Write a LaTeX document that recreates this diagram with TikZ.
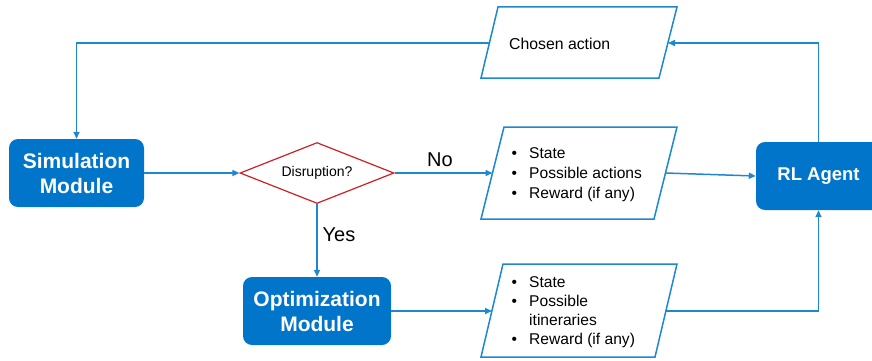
\documentclass[tikz,border=0pt]{standalone}
\usepackage{fontspec}
\setmainfont{Liberation Sans}
\usetikzlibrary{shapes.geometric,arrows.meta}

\definecolor{boxblue}{RGB}{0,117,201}
\definecolor{lineblue}{RGB}{30,135,208}
\definecolor{decred}{RGB}{204,32,38}

% bullet with a fixed hanging indent
\newcommand{\bul}{\makebox[17.5pt][l]{\textbullet}}
\newcommand{\nobul}{\hspace*{17.5pt}}

\begin{document}
\begin{tikzpicture}[x=1pt,y=-1pt,
  module/.style={fill=boxblue, rounded corners=9pt, text=white, align=center,
    inner sep=0pt, font=\bfseries\fontsize{21}{25}\selectfont},
  datashape/.style={draw=lineblue, line width=1.5pt, line join=miter},
  flow/.style={draw=lineblue, line width=1.5pt, -{Triangle[length=7pt,width=6pt]}},
  datatext/.style={inner sep=0pt, anchor=west, align=left, font=\fontsize{15.6}{20}\selectfont},
  branch/.style={inner sep=0pt, font=\fontsize{20}{24}\selectfont},
]
\useasboundingbox (0,0) rectangle (872,361);

% process boxes
\node[module, minimum width=135pt, minimum height=68pt] (sim) at (76.5,173) {Simulation\\Module};
\node[module, minimum width=148pt, minimum height=68pt] (opt) at (317,311) {Optimization\\Module};
\node[module, minimum width=125pt, minimum height=68pt, font=\bfseries\fontsize{18.5}{22}\selectfont] (rl) at (818.5,176) {RL Agent};

% decision
\node[diamond, draw=decred, line width=1.2pt, aspect=2.52, minimum width=154pt, minimum height=61pt,
  inner sep=0pt, font=\fontsize{14}{16}\selectfont] (dis) at (317,173) {Disruption?};

% data parallelograms
\draw[datashape] (481,78) -- (498,7) -- (677,7) -- (659,78) -- cycle;
\coordinate (caW) at (489.5,43);
\coordinate (caE) at (668,43);
\node[inner sep=0pt, anchor=base west, font=\fontsize{15.8}{18}\selectfont] (catext) at (509,49) {Chosen action};

\draw[datashape] (481,219) -- (504,127) -- (677,127) -- (654,219) -- cycle;
\coordinate (sAW) at (492.5,173);
\coordinate (sAE) at (665.5,173);
\node[datatext] (satext) at (511.5,175) {\bul State\\\bul Possible actions\\\bul Reward (if any)};

\draw[datashape] (481,357) -- (503,264) -- (677,264) -- (655,357) -- cycle;
\coordinate (sBW) at (492,311);
\coordinate (sBE) at (666,311);
\node[datatext, font=\fontsize{15.6}{19}\selectfont] (sbtext) at (511.5,312)
  {\bul State\\\bul Possible\\\nobul itineraries\\\bul Reward (if any)};

% connectors
\draw[flow] (sim.east) -- (dis.west);
\draw[flow] (dis.east) -- (sAW);
\draw[flow] (dis.south) -- (opt.north);
\draw[flow] (opt.east) -- (sBW);
\draw[flow] (sAE) -- (rl.west);
\draw[flow] (sBE) -| (rl.south);
\draw[flow] (rl.north) |- (caE);
\draw[flow] (caW) -| (sim.north);

% branch labels
\node[branch, anchor=base west] (nolbl) at (427,166) {No};
\node[branch, anchor=base west] (yeslbl) at (322.5,241) {Yes};
\end{tikzpicture}
\end{document}
